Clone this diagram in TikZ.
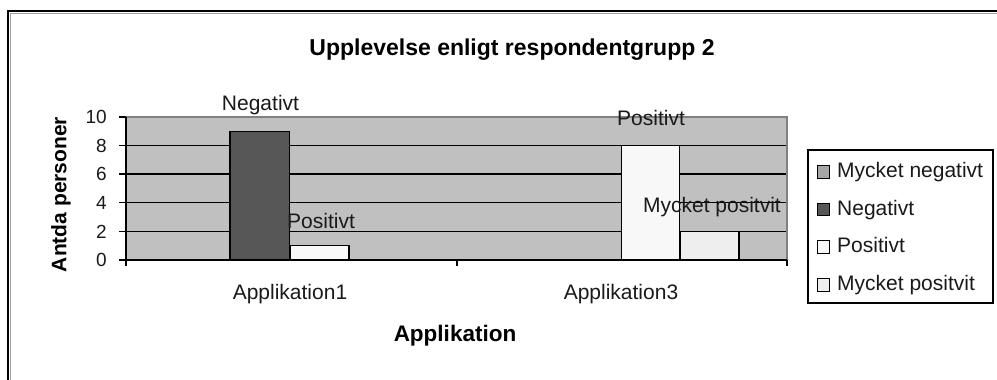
\documentclass[tikz,border=0pt]{standalone}
\usepackage{fontspec}
\setmainfont{Liberation Sans}
\definecolor{plotbg}{HTML}{C0C0C0}
\definecolor{negbar}{HTML}{575757}
\definecolor{posbar}{HTML}{F8F8F8}
\definecolor{mposbar}{HTML}{EEEEEE}
\definecolor{mnegbar}{HTML}{A6A6A6}
\definecolor{frameshade}{HTML}{A0A0A0}
\definecolor{plotedge}{HTML}{808080}
\definecolor{txt}{HTML}{1A1A1A}
\begin{document}
\begin{tikzpicture}[x=1pt,y=-1pt,
  lbl/.style={font=\fontsize{21}{24}\selectfont, text=txt, inner sep=0pt, anchor=base},
  ticklbl/.style={font=\fontsize{19}{22}\selectfont, text=txt, inner sep=0pt, anchor=base east},
  boldlbl/.style={font=\bfseries\fontsize{22.5}{26}\selectfont, text=black, inner sep=0pt, anchor=base},
  legtxt/.style={font=\fontsize{21}{24}\selectfont, text=txt, inner sep=0pt, anchor=base west},
  gridline/.style={line width=1.3pt, black},
  axisline/.style={line width=1.3pt, black},
  barbox/.style={draw=black, line width=1.1pt},
  swatch/.style={draw=black, line width=1.1pt, minimum size=12.5pt, inner sep=0pt}]
\useasboundingbox (0,0) rectangle (997,380);
\fill[white] (0,0) rectangle (997,380);

% outer chart frame
\draw[frameshade, line width=1pt] (10,381) -- (10,13) -- (998,13);
\draw[black, line width=2pt] (8,381) -- (8,11) -- (998,11);

% title
\node[boldlbl, font=\bfseries\fontsize{23}{26}\selectfont] (title) at (512,56) {Upplevelse enligt respondentgrupp 2};

% plot area
\fill[plotbg] (126,117) rectangle (787,260);
\foreach \yy in {145.4,174.0,202.6,231.3}
  \draw[gridline] (119,\yy) -- (787,\yy);
\draw[plotedge, line width=1.2pt] (126,117) -- (787,117) -- (787,260);
\draw[axisline] (119,117) -- (126,117);

% bars: Applikation1
\filldraw[barbox, fill=negbar] (230,131.3) rectangle (289.5,260);
\filldraw[barbox, fill=posbar] (290.5,245.7) rectangle (349,260);
% bars: Applikation3
\filldraw[barbox, fill=posbar] (621.5,145.4) rectangle (679.5,260);
\filldraw[barbox, fill=mposbar] (680.5,231.3) rectangle (739,260);

% axes and ticks
\draw[axisline] (126,117) -- (126,266);
\draw[axisline] (119,260) -- (787,260);
\draw[axisline] (457,260) -- (457,266);
\draw[axisline] (787,260) -- (787,266);

% value axis labels
\node[ticklbl] (t0) at (107,266.8) {0};
\node[ticklbl] (t2) at (107,238.1) {2};
\node[ticklbl] (t4) at (107,209.4) {4};
\node[ticklbl] (t6) at (107,180.8) {6};
\node[ticklbl] (t8) at (107,152.2) {8};
\node[ticklbl] (t10) at (107,123.8) {10};
\node[font=\bfseries\fontsize{21}{24}\selectfont, rotate=90, inner sep=0pt] (ylab) at (61,194.5) {Antda personer};

% category labels
\node[lbl] (cat1) at (290,299) {Applikation1};
\node[lbl] (cat3) at (621,299) {Applikation3};
\node[boldlbl] (xlab) at (455,341.5) {Applikation};

% data labels
\node[lbl] (dneg) at (260.5,110.5) {Negativt};
\node[lbl] (dpos1) at (321,228) {Positivt};
\node[lbl] (dpos3) at (651,125) {Positivt};
\node[lbl] (dmpos) at (712,212.5) {Mycket positvit};

% legend
\draw[black, line width=1.3pt] (808,150) rectangle (993,303);
\node[swatch, fill=mnegbar] (s1) at (823.5,172) {};
\node[swatch, fill=negbar] (s2) at (823.5,209.5) {};
\node[swatch, fill=posbar] (s3) at (823.5,247) {};
\node[swatch, fill=mposbar] (s4) at (823.5,285) {};
\node[legtxt] (l1) at (837,177.5) {Mycket negativt};
\node[legtxt] (l2) at (837,215) {Negativt};
\node[legtxt] (l3) at (837,252.7) {Positivt};
\node[legtxt] (l4) at (837,290.3) {Mycket positvit};
\end{tikzpicture}
\end{document}
